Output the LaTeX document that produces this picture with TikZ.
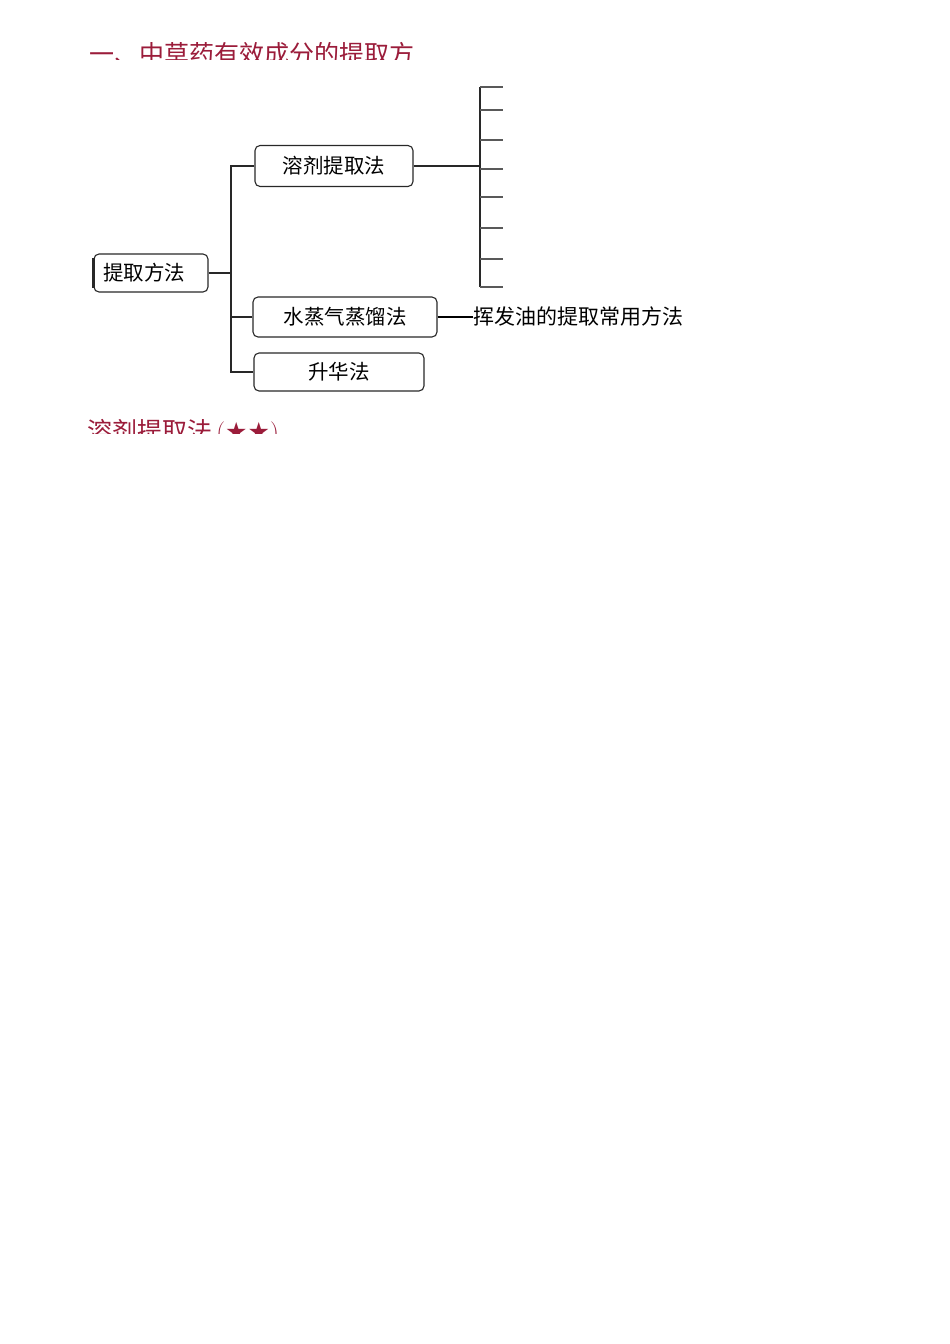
\documentclass[tikz,border=0pt]{standalone}
\usepackage{fontspec}
\newfontfamily\cjk{Noto Sans CJK SC}
\newfontfamily\sym{DejaVu Sans}
\definecolor{titlered}{RGB}{155,28,58}
\definecolor{boxline}{RGB}{40,40,40}
\tikzset{
  box/.style={draw=boxline, line width=1.1pt, rounded corners=5pt, inner sep=0pt,
    font=\cjk\fontsize{20.5}{22}\selectfont, text=black},
  conn/.style={draw=boxline, line width=1.1pt},
  tick/.style={draw=black!65, line width=2pt},
  heading/.style={inner sep=0pt, text=titlered, font=\cjk\fontsize{25}{27}\selectfont}
}
\begin{document}
\begin{tikzpicture}[x=1pt,y=-1pt]
\useasboundingbox[fill=white] (0,0) rectangle (950,1344);

% heading (cut at bottom as in the reference)
\begin{scope}
  \clip (0,0) rectangle (950,59);
  \node[heading, anchor=base west] (title) at (89,63) {一、中草药有效成分的提取方};
\end{scope}

% nodes
\node[box, minimum width=114pt, minimum height=38pt] (root) at (151,273) {提取方法\kern14pt\relax};
\draw[line width=2.2pt, boxline] ([yshift=-5pt]root.north west) -- ([yshift=5pt]root.south west);
\node[box, minimum width=158pt, minimum height=41pt] (sol) at (334,166) {溶剂提取法};
\node[box, minimum width=184pt, minimum height=40pt] (steam) at (345,317) {水蒸气蒸馏法};
\node[box, minimum width=170pt, minimum height=38pt] (subl) at (339,372) {升华法};
\node[inner sep=0pt, anchor=west, font=\cjk\fontsize{21}{22}\selectfont] (note) at (473,317) {挥发油的提取常用方法};

% trunk
\coordinate (tk) at (231,0);
\draw[conn] (root.east) -- (root.east -| tk);
\draw[conn] (sol.west) -- (sol.west -| tk) -- (subl.west -| tk) -- (subl.west);
\draw[conn] (steam.west) -- (steam.west -| tk);

% bracket of solvent methods
\coordinate (bk) at (480,0);
\draw[conn] (sol.east) -- (sol.east -| bk);
\coordinate (bktop) at (480,87);
\coordinate (bkbot) at (480,287);
\draw[conn, line width=1.4pt] (bktop) -- (bkbot);
\foreach \yy [count=\i] in {87,110,140,169,197,228,259,287} {
  \coordinate (s\i) at (480,\yy);
  \coordinate (e\i) at (503,\yy);
  \draw[tick] (s\i) -- (e\i);
}

% steam note connector
\draw[line width=2.2pt] (steam.east) -- (steam.east -| note.west);

% section heading (cut at bottom)
\begin{scope}
  \clip (0,400) rectangle (950,433);
  \node[heading, anchor=base west] (sub) at (87,440) {溶剂提取法\,{\rmfamily(}{\sym★★}{\rmfamily)}};
\end{scope}
\end{tikzpicture}
\end{document}
